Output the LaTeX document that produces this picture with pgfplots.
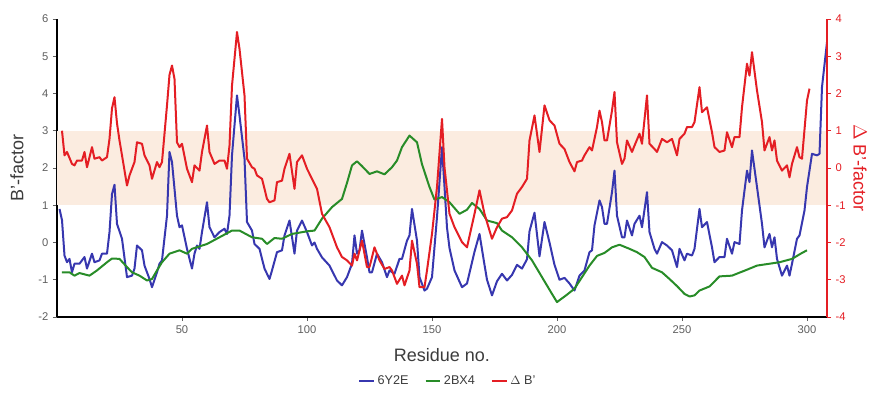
\documentclass[border=0pt]{standalone}
\usepackage{fontspec}
\setmainfont{Liberation Sans}
\usepackage{pgfplots}
\pgfplotsset{compat=1.18}
\definecolor{cblue}{RGB}{55,55,175}
\definecolor{cgreen}{RGB}{40,140,40}
\definecolor{cred}{RGB}{228,30,36}
\definecolor{cband}{RGB}{251,236,224}
\definecolor{ctick}{RGB}{95,95,95}
\definecolor{clabel}{RGB}{60,60,60}
\begin{document}
\begin{tikzpicture}
\begin{axis}[
  scale only axis, width=577.5pt, height=223.5pt,
  xmin=0, xmax=308, ymin=-2, ymax=6,
  axis x line*=bottom, axis y line*=left,
  x axis line style={black, line width=1.4pt},
  y axis line style={black, line width=1.5pt},
  xtick={50,100,150,200,250,300}, ytick={-2,-1,0,1,2,3,4,5,6},
  tick align=outside, major tick length=3pt,
  tick style={ctick, line width=0.5pt},
  ticklabel style={font=\fontsize{8.4pt}{10pt}\selectfont, text=ctick},
  /pgf/number format/assume math mode=true,
  xlabel={Residue no.},
  xlabel style={at={(axis description cs:0.5,-0.1275)}, anchor=center, font=\fontsize{13.5pt}{16pt}\selectfont, text=clabel},
  ylabel={B'-factor},
  ylabel style={at={(axis description cs:-0.052,0.5)}, anchor=center, rotate=0, font=\fontsize{13.5pt}{16pt}\selectfont, text=clabel},
  legend style={at={(axis description cs:0.508,-0.215)}, anchor=center, draw=none, font=\fontsize{9.5pt}{11pt}\selectfont, text=clabel, /tikz/every even column/.append style={column sep=10pt}},
  legend columns=3,
  legend image code/.code={\draw[#1, line width=1.5pt] (0pt,0pt) -- (11pt,0pt);},
]
\addplot[draw=none, fill=cband, forget plot] coordinates {(0,1) (308,1) (308,3) (0,3)} -- cycle;
\addplot[cblue, line width=1.5pt, line join=round] coordinates {
(1,0.9)(2,0.6)(3,-0.35)(4,-0.53)(5,-0.44)(6,-0.8)(7,-0.57)(9,-0.57)(11,-0.39)(12,-0.7)(14,-0.3)(15,-0.53)(17,-0.48)(18,-0.3)(20,-0.3)(21,0.28)(22,1.3)(23,1.55)(24,0.5)(25,0.3)(26,0.1)(28,-0.93)(30,-0.89)(31,-0.7)(32,-0.08)(34,-0.21)(35,-0.62)(37,-0.98)(38,-1.2)(40,-0.8)(41,-0.57)(42,-0.48)(44,0.72)(45,2.43)(46,2.16)(48,0.72)(49,0.41)(50,0.46)(52,-0.17)(54,-0.7)(55,-0.3)(56,-0.08)(57,-0.17)(58,0.28)(60,1.08)(61,0.41)(63,0.14)(65,0.28)(67,0.37)(68,0.23)(69,0.72)(70,2.34)(72,3.95)(73,3.41)(75,2.25)(76,0.55)(78,0.32)(79,-0.04)(81,-0.17)(83,-0.7)(85,-0.98)(86,-0.75)(88,-0.26)(90,-0.21)(91,0.19)(93,0.59)(95,-0.3)(96,0.32)(98,0.59)(100,0.28)(102,-0.08)(103,0.0)(104,-0.17)(106,-0.4)(109,-0.62)(112,-1.02)(114,-1.15)(116,-0.93)(118,-0.57)(119,0.19)(120,-0.3)(121,-0.21)(122,0.32)(124,-0.4)(125,-0.8)(126,-0.8)(128,-0.3)(130,-0.53)(132,-0.93)(133,-0.75)(135,-0.84)(137,-0.44)(138,-0.44)(140,0.05)(141,0.19)(142,0.9)(144,0.05)(145,-0.93)(147,-1.29)(148,-1.24)(150,-0.93)(152,0.68)(154,2.56)(155,1.5)(156,0.4)(157,-0.15)(159,-0.75)(162,-1.2)(164,-1.1)(167,-0.25)(169,0.23)(171,-0.6)(172,-1.0)(174,-1.42)(176,-1.04)(178,-0.84)(180,-1.02)(182,-0.87)(184,-0.6)(186,-0.7)(188,-0.45)(189,0.3)(191,0.8)(193,-0.37)(195,0.55)(197,0.0)(199,-0.6)(201,-1.0)(203,-0.95)(205,-1.1)(207,-1.29)(209,-0.89)(211,-0.75)(213,-0.26)(214,-0.21)(215,0.46)(217,1.13)(218,0.95)(219,0.5)(220,0.5)(222,1.35)(223,1.93)(224,0.72)(226,0.14)(227,0.14)(228,0.59)(230,0.19)(231,0.5)(233,0.72)(234,0.41)(236,1.35)(237,0.28)(239,-0.17)(240,-0.3)(242,0.01)(244,-0.08)(246,-0.21)(248,-0.66)(249,-0.17)(251,-0.48)(252,-0.3)(254,-0.35)(255,-0.17)(257,0.9)(258,0.41)(260,0.55)(262,-0.13)(263,-0.53)(265,-0.39)(267,-0.39)(268,0.1)(270,-0.3)(271,0.01)(273,-0.04)(274,0.86)(276,1.93)(277,1.62)(278,2.47)(280,1.49)(282,0.5)(283,-0.13)(285,0.23)(286,-0.13)(287,0.14)(288,-0.44)(290,-0.89)(292,-0.62)(293,-0.89)(294,-0.57)(296,0.1)(297,0.19)(299,0.86)(300,1.49)(302,2.38)(304,2.34)(305,2.38)(306,4.17)(308,5.38)
};
\addlegendentry{6Y2E}
\addplot[cgreen, line width=1.5pt, line join=round] coordinates {
(2,-0.8)(5,-0.8)(7,-0.89)(9,-0.82)(13,-0.89)(16,-0.75)(20,-0.53)(22,-0.43)(25,-0.44)(28,-0.66)(30,-0.8)(33,-0.89)(36,-1.02)(38,-0.98)(40,-0.75)(42,-0.53)(45,-0.3)(49,-0.21)(52,-0.3)(54,-0.17)(60,-0.04)(65,0.14)(70,0.32)(73,0.32)(78,0.14)(82,0.1)(84,-0.04)(87,0.12)(90,0.1)(94,0.23)(100,0.3)(103,0.32)(106,0.64)(110,0.95)(114,1.17)(116,1.6)(118,2.07)(120,2.18)(122,2.05)(125,1.84)(128,1.91)(131,1.83)(134,2.02)(136,2.2)(138,2.56)(141,2.87)(144,2.69)(146,2.1)(149,1.49)(151,1.15)(154,1.22)(157,1.08)(161,0.77)(164,0.88)(166,1.06)(169,0.9)(172,0.59)(176,0.52)(178,0.32)(182,0.14)(186,-0.13)(190,-0.48)(194,-0.93)(198,-1.38)(200,-1.6)(204,-1.4)(207,-1.24)(210,-0.93)(213,-0.62)(216,-0.36)(219,-0.28)(222,-0.13)(225,-0.06)(229,-0.17)(232,-0.26)(235,-0.39)(238,-0.68)(242,-0.8)(245,-0.98)(248,-1.17)(251,-1.38)(253,-1.45)(255,-1.42)(257,-1.29)(261,-1.18)(265,-0.91)(270,-0.89)(276,-0.73)(280,-0.62)(285,-0.57)(289,-0.53)(294,-0.44)(298,-0.28)(300,-0.21)
};
\addlegendentry{2BX4}
\addlegendimage{cred, line width=1.5pt}
\addlegendentry{$\Delta$ B'}
\end{axis}
\begin{axis}[
  scale only axis, width=577.5pt, height=223.5pt,
  xmin=0, xmax=308, ymin=-4, ymax=4,
  axis y line*=right, axis x line=none,
  y axis line style={cred, line width=1.5pt},
  ytick={-4,-3,-2,-1,0,1,2,3,4},
  tick align=outside, major tick length=3pt,
  tick style={cred, line width=0.5pt},
  ticklabel style={font=\fontsize{8.4pt}{10pt}\selectfont, text=cred},
  /pgf/number format/assume math mode=true,
  ylabel={$\Delta$ B'-factor},
  ylabel style={at={(axis description cs:1.043,0.5)}, anchor=center, rotate=180, font=\fontsize{13.5pt}{16pt}\selectfont, text=cred},
]
\addplot[cred, line width=1.5pt, line join=round] coordinates {
(2,1.0)(3,0.34)(4,0.43)(6,0.11)(7,0.07)(8,0.2)(10,0.2)(11,0.43)(12,0.02)(14,0.56)(15,0.25)(17,0.29)(18,0.2)(20,0.29)(21,0.78)(22,1.6)(23,1.9)(24,1.2)(25,0.74)(26,0.34)(28,-0.47)(29,-0.2)(31,0.16)(32,0.69)(34,0.65)(35,0.34)(37,0.07)(38,-0.29)(40,0.16)(41,0.02)(42,0.16)(44,1.68)(45,2.5)(46,2.75)(47,2.39)(48,0.69)(49,0.56)(50,0.65)(52,-0.02)(54,-0.38)(55,0.07)(57,-0.07)(58,0.43)(60,1.14)(61,0.43)(63,0.11)(65,0.2)(67,0.2)(68,-0.02)(69,0.6)(70,2.21)(72,3.65)(73,3.2)(75,1.95)(76,0.25)(78,0.02)(79,-0.02)(80,-0.2)(82,-0.29)(84,-0.83)(85,-0.92)(87,-0.87)(88,-0.38)(90,-0.34)(91,-0.02)(93,0.38)(95,-0.56)(96,0.16)(98,0.34)(100,-0.02)(102,-0.29)(104,-0.56)(106,-1.23)(109,-1.59)(112,-2.13)(114,-2.39)(116,-2.48)(118,-2.62)(119,-2.3)(120,-2.48)(122,-1.95)(124,-2.66)(125,-2.66)(127,-2.13)(129,-2.48)(131,-2.71)(133,-2.66)(134,-2.75)(136,-3.11)(138,-2.89)(139,-3.15)(141,-2.75)(142,-1.95)(144,-2.57)(145,-3.2)(147,-3.2)(148,-2.75)(150,-1.77)(152,-0.51)(154,1.32)(155,0.02)(157,-1.23)(159,-1.59)(162,-1.99)(164,-2.13)(167,-1.23)(169,-0.6)(171,-1.23)(173,-1.68)(174,-1.9)(176,-1.59)(178,-1.36)(180,-1.32)(182,-1.14)(184,-0.69)(186,-0.51)(188,-0.29)(189,0.74)(191,1.41)(193,0.43)(195,1.68)(197,1.28)(199,1.14)(201,0.65)(203,0.51)(205,0.16)(207,-0.09)(208,0.16)(210,0.2)(211,0.34)(213,0.56)(214,0.47)(216,1.1)(217,1.54)(218,1.23)(219,0.74)(220,0.74)(222,1.54)(223,2.04)(224,0.69)(226,0.11)(227,0.25)(228,0.74)(230,0.43)(231,0.6)(233,0.92)(234,0.65)(236,1.95)(237,0.65)(239,0.51)(240,0.43)(242,0.78)(244,0.69)(246,0.78)(248,0.34)(249,0.78)(251,0.92)(252,1.1)(254,1.1)(255,1.23)(257,2.17)(258,1.5)(260,1.63)(262,0.96)(263,0.56)(265,0.43)(267,0.47)(268,0.96)(270,0.56)(271,0.83)(273,0.83)(274,1.63)(276,2.8)(277,2.48)(278,3.11)(280,2.08)(282,1.23)(283,0.47)(285,0.83)(286,0.47)(287,0.74)(288,0.2)(290,-0.07)(292,0.07)(293,-0.25)(294,0.11)(296,0.56)(297,0.29)(298,0.25)(300,1.81)(301,2.13)
};
\end{axis}
\pgfresetboundingbox
\path[use as bounding box] (-42.75pt,-58.5pt) rectangle (614.25pt,237.75pt);
\end{tikzpicture}
\end{document}
